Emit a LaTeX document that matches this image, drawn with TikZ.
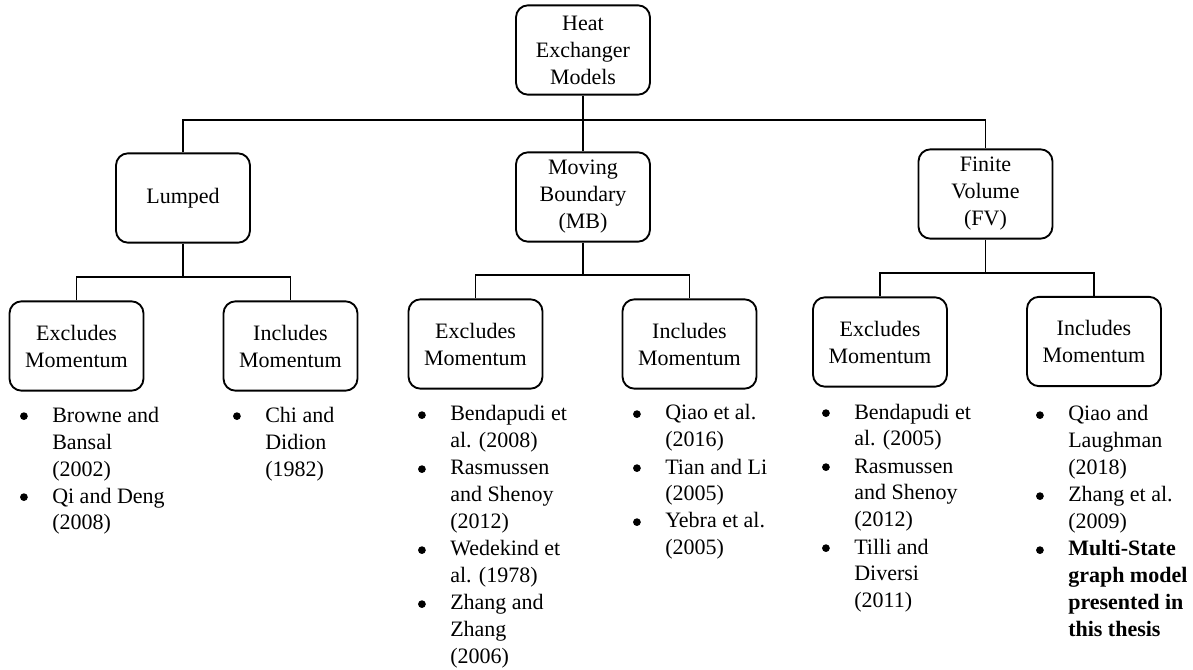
\documentclass[tikz,border=0pt]{standalone}
\usepackage{fontspec}
\setmainfont{Liberation Serif}
% bullet list helpers: round bullet followed by hanging text
\newcommand{\bul}{\makebox[24.75pt][l]{\hspace{0.6pt}\tikz[baseline=0pt]\fill (2.9pt,4.4pt) circle (2.9pt);}}
\newcommand{\hang}{\hspace*{24.75pt}}
\newcommand{\reflist}[1]{\begin{tabular}[t]{@{}l@{}}#1\end{tabular}}
\begin{document}
\begin{tikzpicture}[x=0.75pt,y=-0.75pt,
  model/.style={draw, line width=1.4pt, rounded corners=9pt,
    minimum width=100.5pt, minimum height=67pt, align=center,
    inner sep=2pt, font=\fontsize{16.5}{20.25}\selectfont},
  link/.style={line width=1.3pt},
  refs/.style={anchor=base west, inner sep=0pt,
    font=\fontsize{16.5}{20.25}\selectfont}]
\useasboundingbox (0,0) rectangle (1193,670);

% model boxes
\node[model] (top) at (583,50) {Heat\\Exchanger\\Models};
\node[model] (lumped) at (183,198) {Lumped};
\node[model] (mb) at (583,197) {Moving\\Boundary\\(MB)};
\node[model] (fv) at (985.5,194) {Finite\\Volume\\(FV)};

\node[model] (l1) at (76.5,346) {Excludes\\Momentum};
\node[model] (l2) at (290.5,346) {Includes\\Momentum};
\node[model] (m1) at (475.5,344) {Excludes\\Momentum};
\node[model] (m2) at (689.5,344) {Includes\\Momentum};
\node[model] (f1) at (880,342) {Excludes\\Momentum};
\node[model] (f2) at (1094,341.5) {Includes\\Momentum};

% tree connectors
\coordinate (bus) at (583,120);
\coordinate (lbus) at (183,277);
\coordinate (mbus) at (583,275);
\coordinate (fbus) at (985.5,273);

\draw[link] (top) -- (bus);
\draw[link] (lumped.north) |- (bus) -| (fv.north);
\draw[link] (bus) -- (mb.north);

\draw[link] (lumped) -- (lbus);
\draw[link] (l1.north) |- (lbus) -| (l2.north);
\draw[link] (mb) -- (mbus);
\draw[link] (m1.north) |- (mbus) -| (m2.north);
\draw[link] (fv) -- (fbus);
\draw[link] (f1.north) |- (fbus) -| (f2.north);

% references under each leaf
\node[refs] (r1) at (19,422) {\reflist{%
  \bul Browne and\\ \hang Bansal\\ \hang (2002)\\
  \bul Qi and Deng\\ \hang (2008)}};
\node[refs] (r2) at (232,422) {\reflist{%
  \bul Chi and\\ \hang Didion\\ \hang (1982)}};
\node[refs] (r3) at (417,421) {\reflist{%
  \bul Bendapudi et\\ \hang al. (2008)\\
  \bul Rasmussen\\ \hang and Shenoy\\ \hang (2012)\\
  \bul Wedekind et\\ \hang al. (1978)\\
  \bul Zhang and\\ \hang Zhang\\ \hang (2006)}};
\node[refs] (r4) at (632,420) {\reflist{%
  \bul Qiao et al.\\ \hang (2016)\\
  \bul Tian and Li\\ \hang (2005)\\
  \bul Yebra et al.\\ \hang (2005)}};
\node[refs] (r5) at (821,419) {\reflist{%
  \bul Bendapudi et\\ \hang al. (2005)\\
  \bul Rasmussen\\ \hang and Shenoy\\ \hang (2012)\\
  \bul Tilli and\\ \hang Diversi\\ \hang (2011)}};
\node[refs] (r6) at (1035,421) {\reflist{%
  \bul Qiao and\\ \hang Laughman\\ \hang (2018)\\
  \bul Zhang et al.\\ \hang (2009)\\
  \bul \textbf{Multi-State}\\ \hang \textbf{graph model}\\
  \hang \textbf{presented in}\\ \hang \textbf{this thesis}}};
\end{tikzpicture}
\end{document}
